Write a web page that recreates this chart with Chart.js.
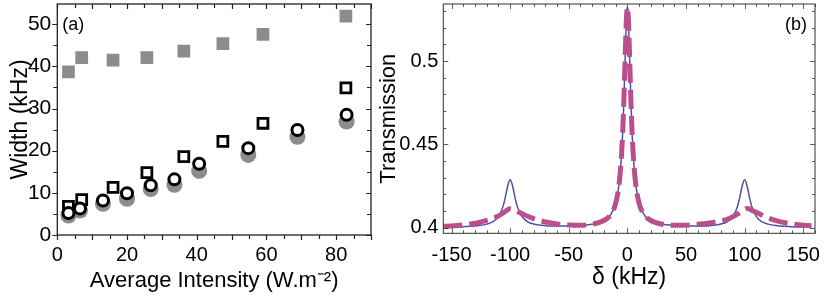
<!DOCTYPE html>
<html>
<head>
<meta charset="utf-8">
<script src="https://cdn.jsdelivr.net/npm/chart.js@4"></script>
<style>
  body { margin: 0; background: #fff; width: 830px; height: 297px; overflow: hidden; position: relative; }
  #chartA { position: absolute; left: 0; top: 0; }
  #chartB { position: absolute; left: 375px; top: 0; }
</style>
</head>
<body>
<canvas id="chartA" width="395" height="297"></canvas>
<canvas id="chartB" width="455" height="297"></canvas>
<script>
// --- panel (a): linewidth vs average intensity ---
const intensityTicks = [0, 20, 40, 60, 80];
const widthTicks = [0, 10, 20, 30, 40, 50];

const sqX = [3.2, 7.0, 16.0, 25.7, 36.3, 47.5, 59.0, 82.8];
const sqFilledY = [38.7, 42.1, 41.5, 42.1, 43.6, 45.4, 47.6, 51.9];
const sqOpenY = [6.8, 8.4, 11.3, 14.8, 18.6, 22.2, 26.5, 34.9];

const circX = [3.2, 6.5, 13.1, 20.0, 26.8, 33.6, 40.7, 54.8, 68.9, 83.0];
const circOpenY = [5.2, 6.3, 8.2, 9.9, 11.8, 13.2, 16.9, 20.6, 24.9, 28.5];
const circFilledY = [4.6, 5.8, 7.4, 8.6, 10.9, 11.9, 15.2, 19.0, 23.3, 26.9];

// --- panel (b): transmission spectrum ---
const detuningTicks = [-150, -100, -50, 0, 50, 100, 150];
const transTicks = [0.4, 0.45, 0.5];

const delta = [-157, -150, -140, -130, -120, -115, -110, -106, -104, -102, -100, -98, -96, -94, -90, -85, -80, -70, -60, -50, -40, -30, -20, -15, -10, -7, -5, -4, -3, -2, -1, -0.5, 0,
               0.5, 1, 2, 3, 4, 5, 7, 10, 15, 20, 30, 40, 50, 60, 70, 80, 85, 90, 94, 96, 98, 100, 102, 104, 106, 110, 115, 120, 130, 140, 150, 157];
const transSolid = [0.4003, 0.4004, 0.4006, 0.4010, 0.4021, 0.4034, 0.4066, 0.4129, 0.4186, 0.4253, 0.4288, 0.4253, 0.4186, 0.4129, 0.4067, 0.4035, 0.4022, 0.4012, 0.4010, 0.4010, 0.4013, 0.4020, 0.4042, 0.4070, 0.4146, 0.4266, 0.4437, 0.4575, 0.4763, 0.4998, 0.5222, 0.5296, 0.5322,
                    0.5296, 0.5222, 0.4998, 0.4763, 0.4575, 0.4437, 0.4266, 0.4146, 0.4070, 0.4042, 0.4020, 0.4013, 0.4010, 0.4010, 0.4012, 0.4022, 0.4035, 0.4067, 0.4129, 0.4186, 0.4253, 0.4288, 0.4253, 0.4186, 0.4129, 0.4066, 0.4034, 0.4021, 0.4010, 0.4006, 0.4004, 0.4003];
const transDashed = [0.4008, 0.4010, 0.4016, 0.4026, 0.4044, 0.4055, 0.4070, 0.4088, 0.4098, 0.4108, 0.4113, 0.4110, 0.4104, 0.4098, 0.4085, 0.4068, 0.4054, 0.4034, 0.4022, 0.4016, 0.4015, 0.4021, 0.4043, 0.4071, 0.4146, 0.4266, 0.4437, 0.4575, 0.4763, 0.4998, 0.5222, 0.5296, 0.5322,
                     0.5296, 0.5222, 0.4998, 0.4763, 0.4575, 0.4437, 0.4266, 0.4146, 0.4071, 0.4043, 0.4020, 0.4014, 0.4015, 0.4020, 0.4028, 0.4040, 0.4050, 0.4066, 0.4082, 0.4092, 0.4102, 0.4110, 0.4115, 0.4112, 0.4105, 0.4092, 0.4074, 0.4058, 0.4036, 0.4023, 0.4015, 0.4012];

const GREY = '#8c8c8c';
const FONT = 'Liberation Sans, Arial, Helvetica, sans-serif';

function pts(xs, ys) { return xs.map((x, i) => ({ x: x, y: ys[i] })); }

// fixed axis sizes, no extra label overhang padding
function fixY(w) { return s => { s.width = w; s.paddingTop = 0; s.paddingBottom = 0; }; }
function fixX(h) { return s => { s.height = h; s.paddingLeft = 0; s.paddingRight = 0; }; }

// box + ticks on all four sides (Chart.js has no mirrored/minor ticks)
const framePlugin = {
  id: 'frame',
  afterDraw(chart, args, o) {
    const { ctx, chartArea: a, scales: { x, y } } = chart;
    ctx.save();
    ctx.strokeStyle = o.color;
    ctx.lineWidth = o.tickWidth;
    ctx.beginPath();
    for (let v = Math.ceil(x.min / o.xMinor) * o.xMinor; v <= x.max + 1e-9; v += o.xMinor) {
      const p = Math.round(x.getPixelForValue(v)) + 0.5;
      const major = Math.abs(v / o.xMajor - Math.round(v / o.xMajor)) < 1e-6;
      const len = major ? o.majorLen : o.minorLen;
      ctx.moveTo(p, a.bottom); ctx.lineTo(p, a.bottom + o.bottomDir * len);
      ctx.moveTo(p, a.top); ctx.lineTo(p, a.top + len);
    }
    for (let v = Math.ceil(y.min / o.yMinor - 1e-6) * o.yMinor; v <= y.max + 1e-9; v += o.yMinor) {
      const p = Math.round(y.getPixelForValue(v)) + 0.5;
      const major = Math.abs(v / o.yMajor - Math.round(v / o.yMajor)) < 1e-6;
      const len = major ? o.majorLen : o.minorLen;
      ctx.moveTo(a.left, p); ctx.lineTo(a.left - o.leftDir * len, p);
      ctx.moveTo(a.right, p); ctx.lineTo(a.right - len, p);
    }
    ctx.stroke();
    ctx.lineWidth = o.width;
    ctx.strokeRect(a.left, a.top, a.right - a.left, a.bottom - a.top);
    ctx.fillStyle = '#000';
    ctx.font = '18px ' + FONT;
    ctx.textBaseline = 'middle';
    ctx.textAlign = o.tagAlign;
    ctx.fillText(o.tag, o.tagAlign === 'left' ? a.left + 5 : a.right - 8, a.top + 21);
    ctx.restore();
  }
};

new Chart(document.getElementById('chartA'), {
  type: 'scatter',
  data: {
    datasets: [
      { data: pts(circX, circOpenY), pointStyle: 'circle', pointRadius: 5.5, backgroundColor: '#fff', borderColor: '#000', borderWidth: 3 },
      { data: pts(sqX, sqOpenY), pointStyle: 'rect', pointRadius: 7, backgroundColor: '#fff', borderColor: '#000', borderWidth: 2.8 },
      { data: pts(sqX, sqFilledY), pointStyle: 'rect', pointRadius: 9, backgroundColor: GREY, borderWidth: 0 },
      { data: pts(circX, circFilledY), pointStyle: 'circle', pointRadius: 8, backgroundColor: GREY, borderWidth: 0 }
    ]
  },
  options: {
    responsive: false,
    animation: false,
    layout: { autoPadding: false, padding: { top: 4, right: 24, left: 0, bottom: 0 } },
    plugins: {
      legend: { display: false }, tooltip: { enabled: false },
      frame: { color: '#222', width: 1.3, tickWidth: 1.2, xMinor: 5, xMajor: 10, yMinor: 5, yMajor: 10,
               majorLen: 5, minorLen: 4, bottomDir: 1, leftDir: 1, tag: '(a)', tagAlign: 'left' }
    },
    scales: {
      x: {
        type: 'linear', min: 0, max: 90,
        afterBuildTicks: s => { s.ticks = intensityTicks.map(v => ({ value: v })); },
        afterFit: fixX(62),
        grid: { display: false, drawTicks: false }, border: { display: false },
        ticks: { color: '#000', padding: 8, font: { family: FONT, size: 20 } },
        title: { display: true, text: 'Average Intensity (W.m⁻²)', color: '#000', padding: { top: 0, bottom: 3 }, font: { family: FONT, size: 22 } }
      },
      y: {
        type: 'linear', min: 0, max: 54.8,
        afterBuildTicks: s => { s.ticks = widthTicks.map(v => ({ value: v })); },
        afterFit: fixY(57.3),
        grid: { display: false, drawTicks: false }, border: { display: false },
        ticks: { color: '#000', padding: 6, font: { family: FONT, size: 21 } },
        title: { display: true, text: 'Width (kHz)', color: '#000', padding: { top: 7, bottom: 0 }, font: { family: FONT, size: 23 } }
      }
    }
  },
  plugins: [framePlugin]
});

new Chart(document.getElementById('chartB'), {
  type: 'scatter',
  data: {
    datasets: [
      { data: pts(delta, transDashed), showLine: true, pointRadius: 0, borderColor: '#b9508c', borderWidth: 5, borderDash: [19, 7], cubicInterpolationMode: 'monotone' },
      { data: pts(delta, transSolid), showLine: true, pointRadius: 0, borderColor: '#4f4fa8', borderWidth: 1.5, cubicInterpolationMode: 'monotone' }
    ]
  },
  options: {
    responsive: false,
    animation: false,
    layout: { autoPadding: false, padding: { top: 4, right: 15, left: 0, bottom: 0 } },
    plugins: {
      legend: { display: false }, tooltip: { enabled: false },
      frame: { color: '#333', width: 1, tickWidth: 0.8, xMinor: 10, xMajor: 50, yMinor: 0.01, yMajor: 0.05,
               majorLen: 5, minorLen: 3, bottomDir: -1, leftDir: -1, tag: '(b)', tagAlign: 'right' }
    },
    scales: {
      x: {
        type: 'linear', min: -157, max: 160,
        afterBuildTicks: s => { s.ticks = detuningTicks.map(v => ({ value: v })); },
        afterFit: fixX(63.7),
        grid: { display: false, drawTicks: false }, border: { display: false },
        ticks: { color: '#000', padding: 10, font: { family: FONT, size: 20 } },
        title: { display: true, text: 'δ (kHz)', color: '#000', padding: { top: 0, bottom: 6 }, font: { family: FONT, size: 23 } }
      },
      y: {
        type: 'linear', min: 0.3966, max: 0.5342,
        afterBuildTicks: s => { s.ticks = transTicks.map(v => ({ value: v })); },
        afterFit: fixY(68.3),
        grid: { display: false, drawTicks: false }, border: { display: false },
        ticks: { color: '#000', padding: 5, font: { family: FONT, size: 20 }, callback: v => String(v) },
        title: { display: true, text: 'Transmission', color: '#000', padding: { top: 1, bottom: 0 }, font: { family: FONT, size: 22 } }
      }
    }
  },
  plugins: [framePlugin]
});
</script>
</body>
</html>
